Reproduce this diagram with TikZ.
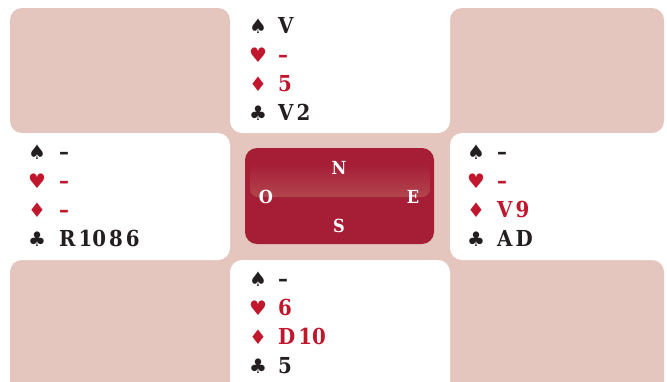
\documentclass[tikz,border=0pt]{standalone}
\usepackage{fontspec}
\setmainfont{DejaVu Serif}
\newfontfamily\cardfont{DejaVu Serif Condensed}
\newfontfamily\suitfont{DejaVu Sans}
\definecolor{pinkbg}{HTML}{E4C6BE}
\definecolor{boxred}{HTML}{A51E36}
\definecolor{cardred}{HTML}{C0172D}
\definecolor{cardblack}{HTML}{231F20}
\definecolor{glossred}{HTML}{B2454D}
\newcommand{\gp}{\kern3pt}
\tikzset{
  tile/.style={fill=pinkbg, rounded corners=12pt},
  cell/.style={fill=white, rounded corners=12pt},
  suit/.style={font=\suitfont\fontsize{20}{20}\selectfont, anchor=base, inner sep=0pt},
  cards/.style={font=\cardfont\bfseries\fontsize{22}{22}\selectfont, anchor=base west, inner sep=0pt},
  redc/.style={text=cardred},
  blackc/.style={text=cardblack},
  dir/.style={font=\cardfont\bfseries\fontsize{18}{18}\selectfont, text=white, inner sep=0pt},
}
\begin{document}
\begin{tikzpicture}[x=1pt,y=-1pt]
\useasboundingbox (0,0) rectangle (667,381);
\fill[white] (0,0) rectangle (667,381);
% corner tiles
\fill[tile] (10,8) rectangle (230,133);
\fill[tile] (450,8) rectangle (664,133);
\fill[tile] (10,260) rectangle (230,400);
\fill[tile] (450,260) rectangle (664,400);
\fill[pinkbg] (218,121) rectangle (462,272);
% white hand cells
\fill[cell] (230,-20) rectangle (450,133);
\fill[cell] (-20,133) rectangle (230,260);
\fill[cell] (450,133) rectangle (690,260);
\fill[cell] (230,260) rectangle (450,400);
% compass
\node[fill=boxred, rounded corners=12pt, minimum width=189pt, minimum height=96pt, inner sep=0pt] (compass) at (339.5,196) {};
\shade[top color=boxred, bottom color=glossred, rounded corners=8pt] (250,164) rectangle (430,197);
\node[dir] (dN) at (339,168) {N};
\node[dir] (dO) at (266,197) {O};
\node[dir] (dE) at (413,197) {E};
\node[dir] (dS) at (339,226) {S};
% North
\node[suit,blackc] (ns) at (258,33) {♠};
\node[cards,blackc] (nst) at (278,33) {V};
\node[suit,redc] (nh) at (258,62) {♥};
\node[cards,redc] (nht) at (278,62) {–};
\node[suit,redc] (nd) at (258,91) {♦};
\node[cards,redc] (ndt) at (278,91) {5};
\node[suit,blackc] (nc) at (258,120) {♣};
\node[cards,blackc] (nct) at (278,120) {V\gp2};
% West
\node[suit,blackc] (ws) at (37,159) {♠};
\node[cards,blackc] (wst) at (59,159) {–};
\node[suit,redc] (wh) at (37,188) {♥};
\node[cards,redc] (wht) at (59,188) {–};
\node[suit,redc] (wd) at (37,217) {♦};
\node[cards,redc] (wdt) at (59,217) {–};
\node[suit,blackc] (wc) at (37,246) {♣};
\node[cards,blackc] (wct) at (59,246) {R\gp10\gp8\gp6};
% East
\node[suit,blackc] (es) at (476,159) {♠};
\node[cards,blackc] (est) at (497,159) {–};
\node[suit,redc] (eh) at (476,188) {♥};
\node[cards,redc] (eht) at (497,188) {–};
\node[suit,redc] (ed) at (476,217) {♦};
\node[cards,redc] (edt) at (497,217) {V\gp9};
\node[suit,blackc] (ec) at (476,246) {♣};
\node[cards,blackc] (ect) at (497,246) {A\gp D};
% South
\node[suit,blackc] (ss) at (258,286) {♠};
\node[cards,blackc] (sst) at (278,286) {–};
\node[suit,redc] (sh) at (258,315) {♥};
\node[cards,redc] (sht) at (278,315) {6};
\node[suit,redc] (sd) at (258,344) {♦};
\node[cards,redc] (sdt) at (278,344) {D\gp10};
\node[suit,blackc] (sc) at (258,373) {♣};
\node[cards,blackc] (sct) at (278,373) {5};
\end{tikzpicture}
\end{document}
